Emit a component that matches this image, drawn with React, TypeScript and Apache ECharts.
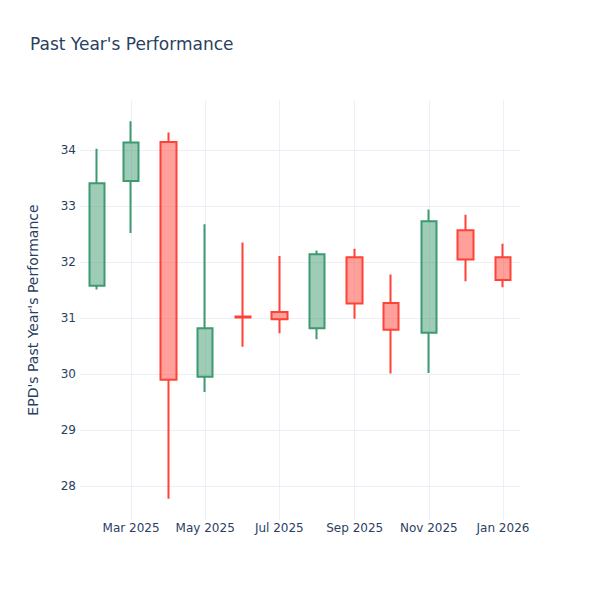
import React, { useEffect, useRef } from "react";
import * as echarts from "echarts";

const dates = [
  "2025-02-01", "2025-03-01", "2025-04-01", "2025-05-01", "2025-06-01", "2025-07-01",
  "2025-08-01", "2025-09-01", "2025-10-01", "2025-11-01", "2025-12-01", "2026-01-01",
];
const openValues = [31.58, 33.45, 34.15, 29.95, 31.03, 31.11, 30.82, 32.09, 31.27, 30.74, 32.57, 32.09];
const closeValues = [33.41, 34.14, 29.9, 30.82, 31.01, 30.98, 32.14, 31.26, 30.79, 32.73, 32.05, 31.68];
const lowValues = [31.51, 32.52, 27.77, 29.68, 30.49, 30.73, 30.62, 30.99, 30.01, 30.02, 31.66, 31.55];
const highValues = [34.03, 34.52, 34.32, 32.68, 32.35, 32.11, 32.21, 32.24, 31.78, 32.94, 32.85, 32.33];

const xTickDates = ["2025-03-01", "2025-05-01", "2025-07-01", "2025-09-01", "2025-11-01", "2026-01-01"];
const yTicks = [28, 29, 30, 31, 32, 33, 34];
const monthNames = ["Jan", "Feb", "Mar", "Apr", "May", "Jun", "Jul", "Aug", "Sep", "Oct", "Nov", "Dec"];

const toTs = (s: string) => {
  const [y, m, d] = s.split("-").map(Number);
  return Date.UTC(y, m - 1, d);
};

const TEXT = "#2a3f5f";
const GRID = "#EBF0F8";
const FONT = "DejaVu Sans";

export default function App() {
  const ref = useRef<HTMLDivElement>(null);
  useEffect(() => {
    if (!ref.current) return;
    const chart = echarts.init(ref.current, undefined, { renderer: "svg" });
    const data = dates.map((d, i) => [toTs(d), openValues[i], closeValues[i], lowValues[i], highValues[i]]);
    const xTicks = xTickDates.map(toTs);
    chart.setOption({
      animation: false,
      backgroundColor: "#fff",
      textStyle: { fontFamily: FONT },
      title: {
        text: "Past Year's Performance",
        left: 17,
        top: 22,
        textStyle: { color: TEXT, fontSize: 17, fontWeight: "normal", fontFamily: FONT },
      },
      grid: { left: 72, right: 88, top: 92, bottom: 88 },
      xAxis: {
        type: "value",
        min: toTs("2025-01-18"),
        max: toTs("2026-01-15"),
        axisLine: { show: false },
        axisTick: { show: false, customValues: xTicks },
        splitLine: { show: true, lineStyle: { color: GRID, width: 1 } },
        axisLabel: {
          customValues: xTicks,
          color: TEXT,
          fontSize: 12,
          fontFamily: FONT,
          margin: 2,
          formatter: (v: number) => {
            const d = new Date(v);
            return `${monthNames[d.getUTCMonth()]} ${d.getUTCFullYear()}`;
          },
        },
      },
      yAxis: {
        type: "value",
        min: 27.39,
        max: 34.9,
        name: "EPD's Past Year's Performance",
        nameLocation: "middle",
        nameGap: 40,
        nameTextStyle: { color: TEXT, fontSize: 14, fontFamily: FONT },
        axisLine: { show: false },
        axisTick: { show: false, customValues: yTicks },
        splitLine: { show: true, lineStyle: { color: GRID, width: 1 } },
        axisLabel: {
          customValues: yTicks,
          color: TEXT,
          fontSize: 12,
          fontFamily: FONT,
          margin: 4,
        },
      },
      series: [
        {
          type: "candlestick",
          barWidth: 16,
          data: data,
          encode: { x: 0, y: [1, 2, 3, 4] },
          itemStyle: {
            color: "rgba(61,153,112,0.5)",
            color0: "rgba(255,65,54,0.5)",
            borderColor: "#3D9970",
            borderColor0: "#FF4136",
            borderWidth: 2,
          },
        },
      ],
    });
    return () => chart.dispose();
  }, []);
  return <div ref={ref} style={{ width: 600, height: 600 }} />;
}
